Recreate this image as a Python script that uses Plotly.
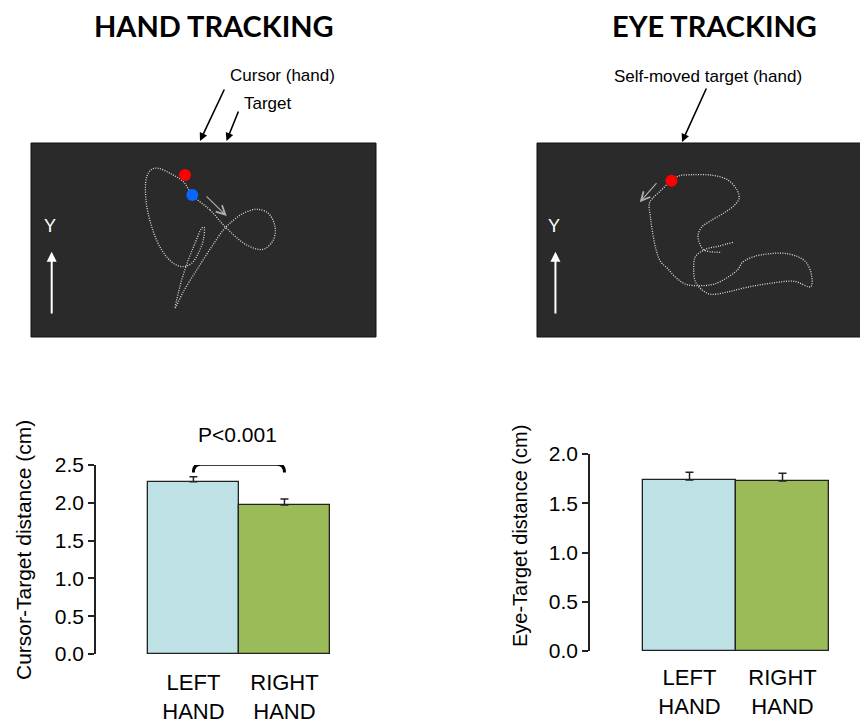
import plotly.graph_objects as go

W, H = 868, 724
OFF = 8  # page body margin of the browser

# ---------------- data ----------------
hands = ["LEFT<br>HAND", "RIGHT<br>HAND"]
hand_pos = [0, 1]
hand_tracking_dist = [2.28, 1.97]      # Cursor-Target distance (cm)
hand_tracking_err = [0.065, 0.08]
eye_tracking_dist = [1.735, 1.725]     # Eye-Target distance (cm)
eye_tracking_err = [0.08, 0.08]
hand_yticks = [0.0, 0.5, 1.0, 1.5, 2.0, 2.5]
eye_yticks = [0.0, 0.5, 1.0, 1.5, 2.0]
p_label = "P<0.001"

# hand-tracking trajectory (panel units)
hand_traj_x = [162.3, 180, 196.7, 216.7, 233.3, 243.3, 245, 238.3, 226.7, 213.3, 201.7, 193.3,
               181.7, 166.7, 153.3, 145, 146.7, 151.7, 158.3, 165, 171.7, 174, 173.3, 168.3,
               161.7, 153.3, 143.3, 131.7, 121.7, 116, 116.7, 121.7, 128.3, 140, 153.3, 162.3]
hand_traj_y = [143, 128, 109.7, 93, 88.7, 98, 111.3, 124.7, 128.7, 124.7, 116.3, 108,
               91.3, 68, 46.3, 29.7, 38, 58, 78, 94.7, 109.7, 110.7, 98, 84.7,
               74.7, 71.3, 74.7, 88, 111.3, 138, 161.3, 168.7, 169.7, 164.7, 156.3, 143]
hand_target_xy = [155, 163]     # red dot
hand_cursor_xy = [162.3, 143]   # blue dot

# eye-tracking trajectory (panel units)
eye_traj_x = [193.3, 180, 166.7, 156.7, 155, 156.7, 163.3, 171.7, 186.7, 206.7, 230, 253.3,
              269.3, 270, 265, 256.7, 243.3, 226.7, 211.7, 202.3, 198.3, 188.3, 175, 161.7,
              146.7, 136.7, 129.3, 122.7, 118.3, 115, 112.7, 111.7, 115, 122.7, 130, 133.3,
              140, 153.3, 173.3, 188.3, 197.3, 199.3, 195, 185, 171.7, 162.7, 159.3, 160.7,
              165, 181]
eye_traj_y = [95.7, 92, 88.7, 81.3, 68, 56.3, 48, 43.7, 45.7, 50.7, 54.7, 56.7,
              51.3, 63, 75.3, 81.3, 84.7, 84, 80.7, 75.3, 68.7, 60.7, 54, 52.3,
              54, 61.3, 69.7, 76.3, 88, 104.7, 121.3, 134.7, 139.7, 147.3, 154.7, 157.3,
              162, 163.3, 162.7, 158, 148, 139.7, 133, 125.3, 117.3, 110.7, 103, 94.7,
              88, 85.7]
eye_target_xy = [133.3, 157.3]

bar_colors = ["#bde1e4", "#9bbb59"]

FONT = "Arial, Liberation Sans, sans-serif"


def px(x):
    return (x - OFF) / W


def py(y):
    return 1 - (y - OFF) / H


fig = go.Figure()

# ---------------- bar charts ----------------
fig.add_trace(go.Bar(
    x=hand_pos, y=hand_tracking_dist, width=[1, 1],
    marker=dict(color=bar_colors, line=dict(color="#222222", width=1.3)),
    error_y=dict(type="data", array=hand_tracking_err, arrayminus=[0, 0], symmetric=False,
                 color="#222222", thickness=1.5, width=4),
    xaxis="x", yaxis="y", hoverinfo="y"))
fig.add_trace(go.Bar(
    x=hand_pos, y=eye_tracking_dist, width=[1, 1],
    marker=dict(color=bar_colors, line=dict(color="#222222", width=1.3)),
    error_y=dict(type="data", array=eye_tracking_err, arrayminus=[0, 0], symmetric=False,
                 color="#222222", thickness=1.5, width=4),
    xaxis="x2", yaxis="y2", hoverinfo="y"))

# ---------------- trajectory panels ----------------
traj_line = dict(color="#e0e0e0", width=1.3, dash="1px,1.4px", shape="spline", smoothing=1)
fig.add_trace(go.Scatter(x=hand_traj_x, y=hand_traj_y, mode="lines", line=traj_line,
                         xaxis="x3", yaxis="y3", hoverinfo="skip"))
fig.add_trace(go.Scatter(x=[hand_target_xy[0]], y=[hand_target_xy[1]], mode="markers",
                         marker=dict(color="#ff0000", size=12), xaxis="x3", yaxis="y3"))
fig.add_trace(go.Scatter(x=[hand_cursor_xy[0]], y=[hand_cursor_xy[1]], mode="markers",
                         marker=dict(color="#0a66ff", size=12), xaxis="x3", yaxis="y3"))
fig.add_trace(go.Scatter(x=eye_traj_x, y=eye_traj_y, mode="lines", line=traj_line,
                         xaxis="x4", yaxis="y4", hoverinfo="skip"))
fig.add_trace(go.Scatter(x=[eye_target_xy[0]], y=[eye_target_xy[1]], mode="markers",
                         marker=dict(color="#ff0000", size=12), xaxis="x4", yaxis="y4"))

bar_x = dict(range=[-1.07, 1.5], tickvals=hand_pos, ticktext=hands, showline=False,
             showgrid=False, zeroline=False, ticks="", automargin=False,
             tickfont=dict(family=FONT, size=22, color="#000"))
bar_y = dict(showline=True, linecolor="#222222", linewidth=1.5, ticks="outside", ticklen=6,
             tickwidth=1.5, tickcolor="#222222", showgrid=False, zeroline=False,
             tickformat=".1f", automargin=False,
             tickfont=dict(family=FONT, size=21, color="#000"))
hidden = dict(visible=False, showgrid=False, zeroline=False, automargin=False)

fig.update_layout(
    width=W, height=H, margin=dict(l=0, r=0, t=0, b=0),
    paper_bgcolor="white", plot_bgcolor="white", showlegend=False, bargap=0,
    xaxis=dict(bar_x, domain=[px(96), px(330)], anchor="y", ticklabelstandoff=13),
    yaxis=dict(bar_y, domain=[py(654), py(465)], range=[0, 2.5], tickvals=hand_yticks, anchor="x"),
    xaxis2=dict(bar_x, domain=[px(590), px(829)], anchor="y2", ticklabelstandoff=11),
    yaxis2=dict(bar_y, domain=[py(651), py(454)], range=[0, 2.0], tickvals=eye_yticks, anchor="x2"),
    xaxis3=dict(hidden, domain=[px(31), px(376)], range=[1, 346], anchor="y3"),
    yaxis3=dict(hidden, domain=[py(337), py(143)], range=[1, 195], anchor="x3"),
    xaxis4=dict(hidden, domain=[px(537), 1.0], range=[2, 333], anchor="y4"),
    yaxis4=dict(hidden, domain=[py(337), py(143)], range=[1, 195], anchor="x4"),
)

shapes = []
for ax in ["x3", "x4"]:
    yy = "y" + ax[1:]
    shapes.append(dict(type="rect", xref=ax + " domain", yref=yy + " domain", x0=0, x1=1, y0=0, y1=1,
                       fillcolor="#2a2a2a", line=dict(color="#111111", width=1), layer="below"))
# significance bracket
shapes.append(dict(type="path", xref="x", yref="y",
                   path="M 0,2.40 Q 0,2.51 0.08,2.51 L 0.92,2.51 Q 1.0,2.51 1.0,2.40",
                   line=dict(color="#000000", width=3)))
fig.update_layout(shapes=shapes)

ann = []
# headings
ann.append(dict(text="<b>HAND TRACKING</b>", x=px(214), y=py(25), xref="paper", yref="paper",
                showarrow=False, font=dict(family="Lato", size=29, color="#000"),
                xanchor="center", yanchor="middle"))
ann.append(dict(text="<b>EYE TRACKING</b>", x=px(714), y=py(25), xref="paper", yref="paper",
                showarrow=False, font=dict(family="Lato", size=29, color="#000"),
                xanchor="center", yanchor="middle"))
# callout labels
lab_font = dict(family=FONT, size=17, color="#000")
ann.append(dict(text="Cursor (hand)", x=px(228), y=py(76), xref="paper", yref="paper",
                showarrow=False, font=lab_font, xanchor="left", yanchor="middle"))
ann.append(dict(text="Target", x=px(242), y=py(103), xref="paper", yref="paper",
                showarrow=False, font=lab_font, xanchor="left", yanchor="middle"))
ann.append(dict(text="Self-moved target (hand)", x=px(612), y=py(77), xref="paper", yref="paper",
                showarrow=False, font=lab_font, xanchor="left", yanchor="middle"))
for (tx, ty, hx, hy) in [(225, 88, 200, 141), (239, 110, 226.5, 141), (707, 87, 682, 142)]:
    ann.append(dict(text="", x=px(hx), y=py(hy), xref="paper", yref="paper",
                    ax=tx - hx, ay=ty - hy, showarrow=True, arrowhead=2, arrowsize=1,
                    arrowwidth=1.6, arrowcolor="#000"))
# Y arrows and labels in panels
for ax, xa, ya0, ya1, xl, yl in [("x3", 21.7, 23, 86.3, 20, 112), ("x4", 20, 23, 86.3, 18.3, 112)]:
    yy = "y" + ax[1:]
    ann.append(dict(text="", x=xa, y=ya1, xref=ax, yref=yy, axref=ax, ayref=yy, ax=xa, ay=ya0,
                    showarrow=True, arrowhead=2, arrowsize=1, arrowwidth=2, arrowcolor="#ffffff"))
    ann.append(dict(text="Y", x=xl, y=yl, xref=ax, yref=yy, showarrow=False,
                    font=dict(family=FONT, size=18, color="#ffffff")))
# small direction arrows in panels
ann.append(dict(text="", x=196.7, y=122, xref="x3", yref="y3", axref="x3", ayref="y3",
                ax=175, ay=143, showarrow=True, arrowhead=5, arrowsize=1.6, arrowwidth=1.1,
                arrowcolor="#b0b0b0"))
ann.append(dict(text="", x=102.3, y=135.7, xref="x4", yref="y4", axref="x4", ayref="y4",
                ax=120, ay=156.3, showarrow=True, arrowhead=5, arrowsize=1.6, arrowwidth=1.1,
                arrowcolor="#b0b0b0"))
# p-value
ann.append(dict(text=p_label, x=px(237), y=py(434), xref="paper", yref="paper", showarrow=False,
                font=dict(family=FONT, size=21, color="#000"), xanchor="center", yanchor="middle"))
# y-axis titles
ann.append(dict(text="Cursor-Target distance (cm)", x=px(23), y=py(550), xref="paper", yref="paper",
                textangle=-90, showarrow=False, font=dict(family=FONT, size=21, color="#000"),
                xanchor="center", yanchor="middle"))
ann.append(dict(text="Eye-Target distance (cm)", x=px(520), y=py(536), xref="paper", yref="paper",
                textangle=-90, showarrow=False, font=dict(family=FONT, size=20, color="#000"),
                xanchor="center", yanchor="middle"))
fig.update_layout(annotations=ann)

fig.write_html("out.html")
